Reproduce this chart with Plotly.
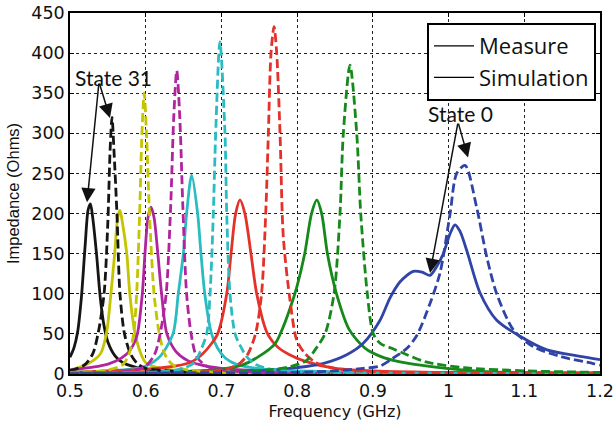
import plotly.graph_objects as go

# ---------------- data ----------------
# Measured (solid) curves
black_meas_f = [0.500, 0.505, 0.510, 0.515, 0.520, 0.524, 0.527, 0.530, 0.535, 0.540, 0.545, 0.550, 0.560, 0.570, 0.585, 0.600, 0.650, 0.700, 0.800, 1.0, 1.2]
black_meas_z = [21, 32, 52, 95, 160, 205, 212, 195, 150, 95, 60, 40, 22, 14, 9, 6, 3, 2, 1, 0.5, 0.3]

yellow_meas_f = [0.50, 0.52, 0.54, 0.548, 0.554, 0.559, 0.563, 0.566, 0.569, 0.575, 0.579, 0.586, 0.595, 0.60, 0.62, 0.65, 0.7, 0.8, 1.2]
yellow_meas_z = [5, 11, 25, 50, 100, 150, 195, 204, 190, 150, 100, 50, 22, 14, 7, 4, 2, 1, 0.5]

magenta_meas_f = [0.50, 0.54, 0.56, 0.575, 0.583, 0.589, 0.5955, 0.599, 0.603, 0.607, 0.611, 0.616, 0.621, 0.628, 0.64, 0.655, 0.67, 0.70, 0.75, 0.8, 1.2]
magenta_meas_z = [5, 10, 16, 25, 35, 50, 100, 150, 195, 208, 195, 150, 100, 50, 28, 17, 12, 7, 4, 2, 0.5]

cyan_meas_f = [0.50, 0.55, 0.58, 0.60, 0.619, 0.636, 0.643, 0.6497, 0.654, 0.6607, 0.6686, 0.673, 0.678, 0.687, 0.695, 0.705, 0.72, 0.74, 0.77, 0.8, 0.9, 1.2]
cyan_meas_z = [2, 4, 6, 10, 22, 50, 100, 150, 200, 248, 200, 150, 100, 50, 32, 20, 12, 8, 5, 4, 2, 1]

red_meas_f = [0.50, 0.60, 0.64, 0.66, 0.675, 0.687, 0.695, 0.707, 0.7127, 0.7188, 0.7245, 0.731, 0.739, 0.7466, 0.76, 0.775, 0.79, 0.81, 0.85, 0.9, 1.0, 1.2]
red_meas_z = [2, 6, 10, 15, 25, 38, 50, 100, 150, 200, 217, 200, 150, 100, 52, 33, 24, 16, 7, 4, 2, 1]

green_meas_f = [0.50, 0.65, 0.70, 0.727, 0.748, 0.771, 0.78, 0.79, 0.80, 0.81, 0.819, 0.826, 0.8324, 0.84, 0.852, 0.869, 0.89, 0.91, 0.936, 0.98, 1.05, 1.2]
green_meas_z = [1, 3, 6, 11, 21, 38, 55, 80, 110, 150, 200, 217, 200, 150, 100, 55, 32, 22, 15, 9, 3, 1]

blue_meas_f = [0.50, 0.70, 0.75, 0.80, 0.834, 0.8655, 0.887, 0.9095, 0.9227, 0.936, 0.9535, 0.965, 0.9755, 0.985, 0.993, 1.002, 1.0085, 1.015, 1.024, 1.0416, 1.0636, 1.0944, 1.13, 1.1736, 1.2]
blue_meas_z = [0.5, 2, 4, 8, 13, 24, 38, 67, 95, 115, 128, 127, 123, 135, 150, 175, 186, 178, 154, 101, 67, 47, 30, 22, 18]

# Simulated (dashed) curves
black_sim_f = [0.50, 0.51, 0.52, 0.53, 0.537, 0.545, 0.550, 0.553, 0.5555, 0.558, 0.562, 0.566, 0.572, 0.58, 0.59, 0.60, 0.65, 0.7, 0.8, 1.2]
black_sim_z = [4, 7, 12, 25, 50, 100, 190, 280, 320, 280, 200, 100, 50, 25, 12, 7, 3, 2, 1, 0.5]

yellow_sim_f = [0.50, 0.55, 0.57, 0.578, 0.584, 0.588, 0.592, 0.595, 0.598, 0.601, 0.605, 0.611, 0.618, 0.625, 0.635, 0.65, 0.7, 0.8, 1.2]
yellow_sim_z = [2, 5, 12, 25, 50, 100, 200, 300, 350, 300, 200, 100, 50, 25, 12, 6, 2, 1, 0.5]

magenta_sim_f = [0.50, 0.58, 0.60, 0.612, 0.619, 0.627, 0.633, 0.637, 0.641, 0.645, 0.649, 0.654, 0.66, 0.667, 0.68, 0.70, 0.75, 0.8, 1.2]
magenta_sim_z = [1, 4, 10, 25, 50, 100, 210, 320, 378, 320, 210, 100, 50, 22, 10, 5, 2, 1, 0.5]

cyan_sim_f = [0.50, 0.62, 0.65, 0.665, 0.672, 0.6805, 0.685, 0.6893, 0.6924, 0.698, 0.7047, 0.707, 0.7113, 0.718, 0.725, 0.733, 0.745, 0.76, 0.8, 1.2]
cyan_sim_z = [1, 3, 7, 15, 28, 50, 100, 200, 300, 414, 300, 200, 100, 50, 35, 22, 12, 7, 3, 1]

red_sim_f = [0.50, 0.68, 0.71, 0.725, 0.735, 0.745, 0.753, 0.7585, 0.762, 0.7655, 0.7695, 0.773, 0.7774, 0.7818, 0.7906, 0.7995, 0.81, 0.825, 0.85, 0.9, 1.2]
red_sim_z = [1, 3, 7, 14, 25, 50, 100, 200, 300, 400, 433, 400, 300, 170, 92, 42, 26, 14, 7, 3, 1]

green_sim_f = [0.50, 0.70, 0.76, 0.79, 0.8126, 0.8236, 0.8368, 0.8487, 0.8566, 0.861, 0.8698, 0.8787, 0.884, 0.8927, 0.9006, 0.91, 0.925, 0.945, 0.97, 1.02, 1.1, 1.2]
green_sim_z = [0.5, 2, 5, 9, 17, 30, 50, 100, 200, 300, 385, 300, 200, 100, 50, 38, 32, 24, 15, 8, 4, 2]

blue_sim_f = [0.50, 0.80, 0.85, 0.887, 0.9095, 0.927, 0.945, 0.958, 0.9755, 0.9887, 1.002, 1.0107, 1.0218, 1.037, 1.0504, 1.0636, 1.0856, 1.112, 1.147, 1.191, 1.2]
blue_sim_z = [0.3, 2, 4, 7, 10, 20, 32, 48, 88, 126, 200, 250, 260, 208, 146, 100, 55, 34, 22, 13, 11]

x_ticks = [0.5, 0.6, 0.7, 0.8, 0.9, 1.0, 1.1, 1.2]
x_tick_labels = ["0.5", "0.6", "0.7", "0.8", "0.9", "1", "1.1", "1.2"]
y_ticks = [0, 50, 100, 150, 200, 250, 300, 350, 400, 450]

colors = {
    "black": "#151515",
    "yellow": "#c4c400",
    "magenta": "#b0259f",
    "cyan": "#2bbcc2",
    "red": "#e3322a",
    "green": "#15891a",
    "blue": "#2f44a6",
}

measured = [
    ("black", black_meas_f, black_meas_z),
    ("yellow", yellow_meas_f, yellow_meas_z),
    ("magenta", magenta_meas_f, magenta_meas_z),
    ("cyan", cyan_meas_f, cyan_meas_z),
    ("red", red_meas_f, red_meas_z),
    ("green", green_meas_f, green_meas_z),
    ("blue", blue_meas_f, blue_meas_z),
]
simulated = [
    ("black", black_sim_f, black_sim_z),
    ("yellow", yellow_sim_f, yellow_sim_z),
    ("magenta", magenta_sim_f, magenta_sim_z),
    ("cyan", cyan_sim_f, cyan_sim_z),
    ("red", red_sim_f, red_sim_z),
    ("green", green_sim_f, green_sim_z),
    ("blue", blue_sim_f, blue_sim_z),
]

fig = go.Figure()

for name, f, z in measured:
    fig.add_trace(go.Scatter(x=f, y=z, mode="lines", showlegend=False,
                             line=dict(color=colors[name], width=2.8, shape="spline", smoothing=0.8)))
for name, f, z in simulated:
    fig.add_trace(go.Scatter(x=f, y=z, mode="lines", showlegend=False,
                             line=dict(color=colors[name], width=2.8, dash="9px,4px", shape="spline", smoothing=0.8)))

# legend entries
fig.add_trace(go.Scatter(x=[None], y=[None], mode="lines", name="Measure",
                         line=dict(color="black", width=1.2)))
fig.add_trace(go.Scatter(x=[None], y=[None], mode="lines", name="Simulation",
                         line=dict(color="black", width=1.2)))

arrow = dict(showarrow=True, arrowhead=2, arrowsize=1.9, arrowwidth=1.5, arrowcolor="#111",
             axref="x", ayref="y", xref="x", yref="y", text="")
# State 31
fig.add_annotation(x=0.5225, y=214, ax=0.5383, ay=364, **arrow)
fig.add_annotation(x=0.5528, y=319, ax=0.5383, ay=364, **arrow)
# State 0
fig.add_annotation(x=1.0257, y=270, ax=1.0125, ay=314, **arrow)
fig.add_annotation(x=0.9755, y=126, ax=1.0125, ay=314, **arrow)

fig.add_annotation(x=0.5568, y=370, text="State 31", showarrow=False,
                   font=dict(family="Lato", size=21, color="#111"))
fig.add_annotation(x=1.0151, y=325, text="State 0", showarrow=False,
                   font=dict(family="Lato", size=21, color="#111"))

axis_common = dict(showline=True, linecolor="black", linewidth=1.5, mirror="ticks",
                   showgrid=True, gridcolor="#222", griddash="dot", gridwidth=1,
                   ticks="inside", ticklen=4, tickcolor="black", zeroline=False,
                   automargin=False, ticklabeloverflow="allow",
                   tickfont=dict(family="DejaVu Sans", size=17.5, color="#111"))

fig.update_xaxes(range=[0.5, 1.2], tickvals=x_ticks, ticktext=x_tick_labels,
                 ticklabelstandoff=0,
                 title=dict(text="Frequency (GHz)", font=dict(family="DejaVu Sans", size=16, color="#111"), standoff=6),
                 **axis_common)
fig.update_yaxes(range=[0, 450], tickvals=y_ticks,
                 title=dict(text="Impedance (Ohms)", font=dict(family="Liberation Sans", size=16.5, color="#111"), standoff=8),
                 **axis_common)

fig.update_layout(
    width=613, height=421,
    margin=dict(l=70, r=13, t=13, b=47),
    plot_bgcolor="white", paper_bgcolor="white",
    legend=dict(x=0.9925, y=0.9723, xanchor="right", yanchor="top",
                bgcolor="white", bordercolor="black", borderwidth=2,
                font=dict(family="Open Sans", size=22, color="#111"),
                tracegroupgap=0, itemwidth=40),
)

fig.write_html("out.html")
